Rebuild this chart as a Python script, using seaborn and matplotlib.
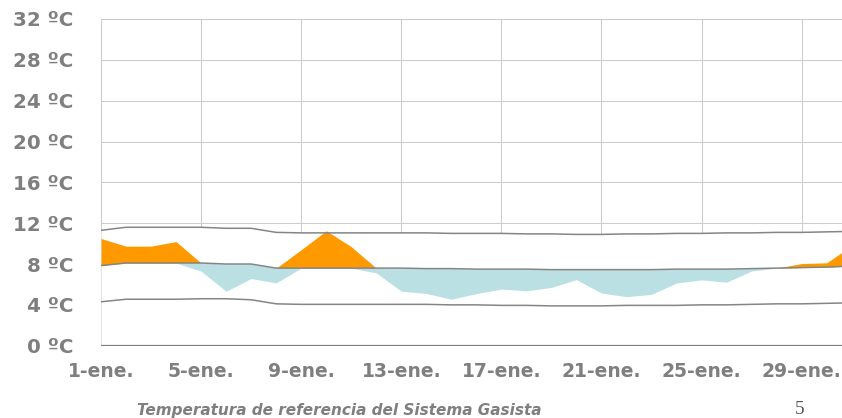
import pandas as pd
import matplotlib.pyplot as plt
import seaborn as sns

# Daily values, January (ene.)
days = list(range(1, 32))
upper = [11.3, 11.6, 11.6, 11.6, 11.6, 11.5, 11.5, 11.1, 11.05, 11.05, 11.05, 11.05, 11.05, 11.05, 11.0, 11.0,
         11.0, 10.95, 10.95, 10.9, 10.9, 10.95, 10.95, 11.0, 11.0, 11.05, 11.05, 11.1, 11.1, 11.15, 11.2]
ref = [7.85, 8.1, 8.1, 8.1, 8.1, 8.0, 8.0, 7.6, 7.6, 7.6, 7.6, 7.6, 7.6, 7.55, 7.55, 7.5,
       7.5, 7.5, 7.45, 7.45, 7.45, 7.45, 7.45, 7.5, 7.5, 7.5, 7.55, 7.6, 7.65, 7.7, 7.8]
lower = [4.3, 4.55, 4.55, 4.55, 4.6, 4.6, 4.5, 4.1, 4.05, 4.05, 4.05, 4.05, 4.05, 4.05, 4.0, 4.0,
         3.95, 3.95, 3.9, 3.9, 3.9, 3.95, 3.95, 3.95, 4.0, 4.0, 4.05, 4.1, 4.1, 4.15, 4.2]
exceso = [2.65, 1.65, 1.65, 2.1, 0, 0, 0, 0, 1.8, 3.66, 2.1, 0, 0, 0, 0, 0,
          0, 0, 0, 0, 0, 0, 0, 0, 0, 0, 0, 0, 0.4, 0.42, 2.0]
defecto = [0, 0, 0, 0, 0.8, 2.67, 1.42, 1.45, 0, 0, 0, 0.47, 2.26, 2.43, 3.0, 2.4,
           1.95, 2.13, 1.74, 0.98, 2.29, 2.65, 2.42, 1.36, 1.05, 1.28, 0.23, 0, 0, 0, 0]

xtick_days = [1, 5, 9, 13, 17, 21, 25, 29]
xtick_labels = ["1-ene.", "5-ene.", "9-ene.", "13-ene.", "17-ene.", "21-ene.", "25-ene.", "29-ene."]
ytick_values = [0, 4, 8, 12, 16, 20, 24, 28, 32]

df = pd.DataFrame({"dia": days, "max": upper, "ref": ref, "min": lower,
                   "exceso": exceso, "defecto": defecto})
df["alta"] = df["ref"] + df["exceso"]
df["baja"] = df["ref"] - df["defecto"]

sns.set_style("white")
plt.rcParams["font.family"] = ["DejaVu Sans"]

gray = "#7f7f7f"
fig = plt.figure(figsize=(8.42, 4.18), dpi=100)
# day 31 falls just outside the right edge in the original
ax = fig.add_axes([101 / 842, 72.3 / 418, 750.7 / 842, 326.7 / 418])

ax.grid(True, color="#cccccc", linewidth=0.75, zorder=0)
ax.set_axisbelow(True)

# white band hides the grid under the upper limit
ax.fill_between(df["dia"], 0, df["max"], color="white", linewidth=0, zorder=2)
ax.fill_between(df["dia"], df["ref"], df["alta"], color="#ff9900", linewidth=0, zorder=3)
ax.fill_between(df["dia"], df["baja"], df["ref"], color="#bae0e4", linewidth=0, zorder=3)

for col in ["max", "ref", "min"]:
    sns.lineplot(data=df, x="dia", y=col, color="#858585", linewidth=1.1, ax=ax, zorder=4)

ax.axhline(0, color=gray, linewidth=1.6, zorder=5)

ax.set_xlim(1, 31)
ax.set_ylim(0, 32)
ax.set_xticks(xtick_days)
ax.set_xticklabels(xtick_labels, fontsize=13.5, fontweight="bold", color=gray)
ax.set_yticks(ytick_values)
ax.set_yticklabels([f"{v} ºC" for v in ytick_values], fontsize=14.3, fontweight="bold", color=gray)
ax.tick_params(axis="x", length=0, pad=12)
ax.tick_params(axis="y", length=0, pad=20)
ax.set_xlabel("")
ax.set_ylabel("")
for s in ax.spines.values():
    s.set_visible(False)
ax.axvline(1, color="#cccccc", linewidth=0.75, zorder=1)

fig.text(339 / 842, 8 / 418, "Temperatura de referencia del Sistema Gasista", ha="center", va="center",
         fontsize=11, fontweight="bold", fontstyle="italic", color=gray)
fig.text(800 / 842, 9 / 418, "5", ha="center", va="center", fontsize=14,
         family="Liberation Serif", color="#555555")

fig.savefig("out.png", dpi=100)
